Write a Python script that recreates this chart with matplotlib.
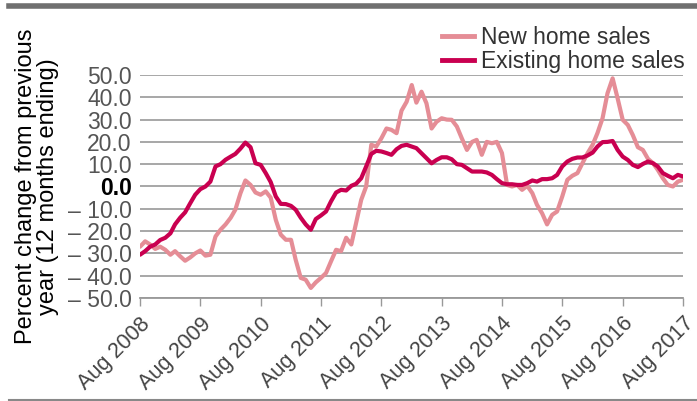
import numpy as np
import pandas as pd
import matplotlib.pyplot as plt
from matplotlib.lines import Line2D

# monthly values, Aug 2008 .. Aug 2017 (12-month ending % change)
months = pd.date_range("2008-08-01", "2017-08-01", freq="MS")

new_home = [
    -27.0, -24.6, -26.0, -28.0, -27.0, -28.4, -30.6, -29.0, -31.3, -33.3,
    -31.8, -30.0, -28.7, -31.0, -30.6, -22.4, -19.4, -17.0, -14.0, -10.4,
    -3.0, 2.7, 0.7, -2.7, -3.7, -2.2, -5.0, -15.0, -21.6, -23.9,
    -23.9, -32.8, -41.0, -41.8, -45.5, -43.0, -41.0, -38.8, -33.6, -28.4,
    -29.0, -23.0, -26.0, -16.4, -6.0, 0.0, 18.7, 17.9, 21.6, 26.0,
    25.4, 23.9, 34.0, 38.0, 45.5, 37.6, 42.5, 37.3, 26.0, 29.0,
    30.6, 30.0, 29.9, 26.9, 21.6, 16.4, 20.0, 20.9, 14.2, 20.0,
    19.4, 20.0, 15.0, 0.7, 0.0, 0.7, -1.5, 0.3, -3.0, -8.2,
    -12.0, -17.0, -12.7, -11.2, -4.5, 3.0, 4.8, 6.0, 10.4, 14.9,
    18.7, 23.9, 30.6, 41.8, 48.5, 39.6, 29.9, 27.6, 23.1, 17.6,
    16.4, 12.4, 10.4, 7.5, 3.7, 0.7, 0.0, 2.2, 3.0,
]

existing_home = [
    -30.6, -29.0, -27.0, -26.0, -24.0, -23.0, -21.0, -17.0, -14.0, -11.6,
    -7.5, -3.7, -1.2, 0.0, 2.2, 9.0, 10.0, 12.0, 13.4, 14.6,
    17.0, 19.7, 17.6, 10.4, 9.7, 6.0, 2.0, -4.5, -7.8, -7.9,
    -8.7, -10.4, -14.0, -17.0, -19.4, -14.6, -13.0, -11.2, -6.7, -2.7,
    -1.5, -1.8, 0.3, 1.2, 3.7, 9.0, 14.6, 16.0, 15.7, 15.0,
    14.2, 16.7, 18.2, 18.7, 17.9, 17.2, 14.9, 12.7, 10.4, 11.9,
    13.1, 13.1, 12.2, 10.0, 9.7, 8.2, 6.7, 6.7, 6.7, 6.3,
    5.2, 3.3, 1.5, 1.0, 1.0, 0.7, 0.7, 1.5, 2.7, 2.2,
    3.3, 3.3, 3.7, 5.2, 9.0, 11.2, 12.4, 13.0, 13.0, 13.9,
    15.2, 17.9, 19.9, 20.0, 20.4, 16.4, 13.4, 11.9, 9.7, 8.7,
    10.1, 11.2, 10.4, 9.0, 6.0, 4.8, 3.7, 5.2, 4.5,
]

tick_dates = pd.date_range("2008-08-01", "2017-08-01", freq="12MS")
tick_labels = [d.strftime("Aug %Y") for d in tick_dates]
y_ticks = [50, 40, 30, 20, 10, 0, -10, -20, -30, -40, -50]

light = "#e58d96"
dark = "#c90050"
font = ["Liberation Sans", "DejaVu Sans"]

fig = plt.figure(figsize=(6.97, 4.01), dpi=100)
ax = fig.add_axes([0.2009, 0.2569, 0.7790, 0.5561])

ax.plot(months, new_home, color=light, lw=3, solid_capstyle="round")
ax.plot(months, existing_home, color=dark, lw=3, solid_capstyle="round")

ax.set_ylim(-50, 50)
ax.set_xlim(months[0], months[-1])
ax.set_yticks(y_ticks)
ylabels = []
for v in y_ticks:
    if v < 0:
        ylabels.append("\u2013 %.1f" % abs(v))
    else:
        ylabels.append("%.1f" % v)
ax.set_yticklabels(ylabels, fontsize=16.5, color="#555555", family=font)
for lab, v in zip(ax.get_yticklabels(), y_ticks):
    if v == 0:
        lab.set_color("black")
        lab.set_fontweight("bold")
ax.tick_params(axis="y", length=0, pad=6)

ax.set_xticks(tick_dates)
ax.set_xticklabels(tick_labels, rotation=45, ha="right", rotation_mode="anchor",
                   fontsize=15.5, color="#444444", family=font)
ax.tick_params(axis="x", length=6, width=1, color="#999999", pad=5)

ax.grid(axis="y", color="#a0a0a0", lw=1.3)
ax.set_axisbelow(True)
for s in ["top", "right", "left"]:
    ax.spines[s].set_visible(False)
ax.spines["bottom"].set_color("#999999")
ax.spines["bottom"].set_linewidth(1.3)

ax.set_ylabel("Percent change from previous\nyear (12 months ending)",
              fontsize=17, family=font, linespacing=1.0, labelpad=6)

handles = [Line2D([], [], color=light, lw=3.5), Line2D([], [], color=dark, lw=3.5)]
leg = fig.legend(handles, ["New home sales", "Existing home sales"],
                 loc="upper right", bbox_to_anchor=(0.995, 0.958), frameon=False,
                 prop={"family": font, "size": 16.5}, handlelength=1.4,
                 handletextpad=0.3, labelspacing=0.05, borderaxespad=0)
for t in leg.get_texts():
    t.set_color("#333333")

# decorative rules at top and bottom
fig.add_artist(Line2D([0.013, 1.0], [0.984, 0.984], color="#707070", lw=4))
fig.add_artist(Line2D([0.013, 1.0], [0.003, 0.003], color="#888888", lw=1.5))

fig.savefig("out.png", dpi=100)
